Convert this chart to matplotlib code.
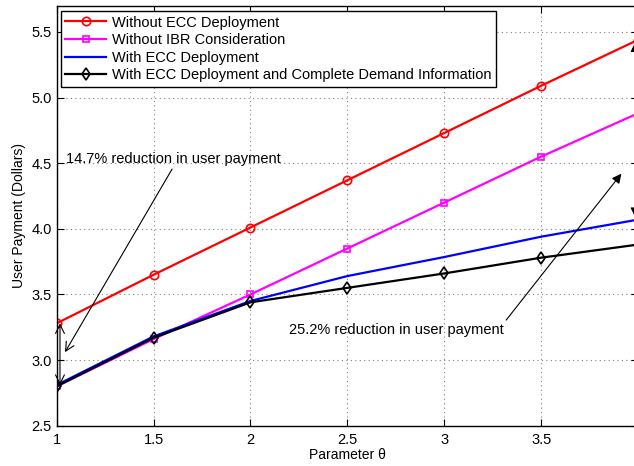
import matplotlib

matplotlib.use("Agg")
import matplotlib.pyplot as plt

# parameter theta and user payment (dollars) per scheme
theta = [1.0, 1.5, 2.0, 2.5, 3.0, 3.5, 4.0]
no_ecc = [3.28, 3.65, 4.01, 4.37, 4.73, 5.09, 5.44]
no_ibr = [2.80, 3.16, 3.50, 3.85, 4.20, 4.55, 4.88]
with_ecc = [2.81, 3.18, 3.45, 3.64, 3.785, 3.94, 4.07]
with_ecc_full = [2.80, 3.17, 3.44, 3.55, 3.66, 3.78, 3.88]

x_ticks = [1, 1.5, 2, 2.5, 3, 3.5]
y_ticks = [2.5, 3.0, 3.5, 4.0, 4.5, 5.0, 5.5]
y_tick_labels = ["2.5", "3.0", "3.5", "4.0", "4.5", "5.0", "5.5"]

plt.rcParams["font.family"] = ["Liberation Sans", "DejaVu Sans"]

fig = plt.figure(figsize=(6.34, 4.66), dpi=100)
ax = fig.add_axes([0.0894, 0.0865, 0.917, 0.9013])

ax.plot(theta, no_ecc, color="#ff0000", lw=1.6, marker="o", ms=6,
        mfc="none", mec="#ff0000", mew=1.2, label="Without ECC Deployment")
ax.plot(theta, no_ibr, color="#ff00ff", lw=1.6, marker="s", ms=5,
        mfc="none", mec="#ff00ff", mew=1.2, label="Without IBR Consideration")
ax.plot(theta, with_ecc, color="#0000ff", lw=1.6, label="With ECC Deployment")
ax.plot(theta, with_ecc_full, color="black", lw=1.6, marker="d", ms=6,
        mfc="none", mec="black", mew=1.2,
        label="With ECC Deployment and Complete Demand Information")

ax.set_xlim(1, 4)
ax.set_ylim(2.5, 5.7)
ax.set_xticks(x_ticks)
ax.set_xticklabels(["1", "1.5", "2", "2.5", "3", "3.5"])
ax.set_yticks(y_ticks)
ax.set_yticklabels(y_tick_labels)
ax.tick_params(direction="in", length=5, width=0.8, labelsize=10.5,
               top=True, right=True, colors="black")
ax.tick_params(axis="x", pad=5)
ax.grid(True, linestyle=(0, (1, 3)), color="#808080", lw=0.8)
for side in ["left", "bottom", "top"]:
    ax.spines[side].set_linewidth(1.0)
ax.spines["right"].set_visible(False)

ax.set_xlabel("Parameter θ", fontsize=10, labelpad=1)
ax.set_ylabel("User Payment (Dollars)", fontsize=10, labelpad=4)

leg = ax.legend(loc="upper left", bbox_to_anchor=(0.0074, 0.987),
                borderaxespad=0, fontsize=10.5, fancybox=False,
                edgecolor="black", framealpha=1, handlelength=2.8,
                handletextpad=0.4, borderpad=0.3, labelspacing=0.25)
leg.get_frame().set_linewidth(1.0)

# annotations
ax.annotate("", xy=(1.017, 2.81), xytext=(1.017, 3.28),
            arrowprops=dict(arrowstyle="<->", color="black", lw=0.8,
                            shrinkA=0, shrinkB=0, mutation_scale=16))
ax.annotate("14.7% reduction in user payment", xy=(1.043, 3.06),
            xytext=(1.05, 4.53), fontsize=10.5, ha="left", va="center",
            arrowprops=dict(arrowstyle="->", color="black", lw=0.8,
                            shrinkA=0, shrinkB=0, relpos=(0.5, 0),
                            mutation_scale=16))
ax.annotate("", xy=(3.985, 4.09), xytext=(3.985, 5.42), annotation_clip=False,
            arrowprops=dict(arrowstyle="<|-|>", color="black", lw=0.8,
                            shrinkA=0, shrinkB=0, mutation_scale=14))
ax.annotate("25.2% reduction in user payment", xy=(3.914, 4.42),
            xytext=(2.2, 3.23), fontsize=10.5, ha="left", va="center",
            arrowprops=dict(arrowstyle="-|>", color="black", lw=0.8,
                            shrinkA=0, shrinkB=0, relpos=(1, 1),
                            mutation_scale=14))

fig.savefig("out.png", dpi=100)
